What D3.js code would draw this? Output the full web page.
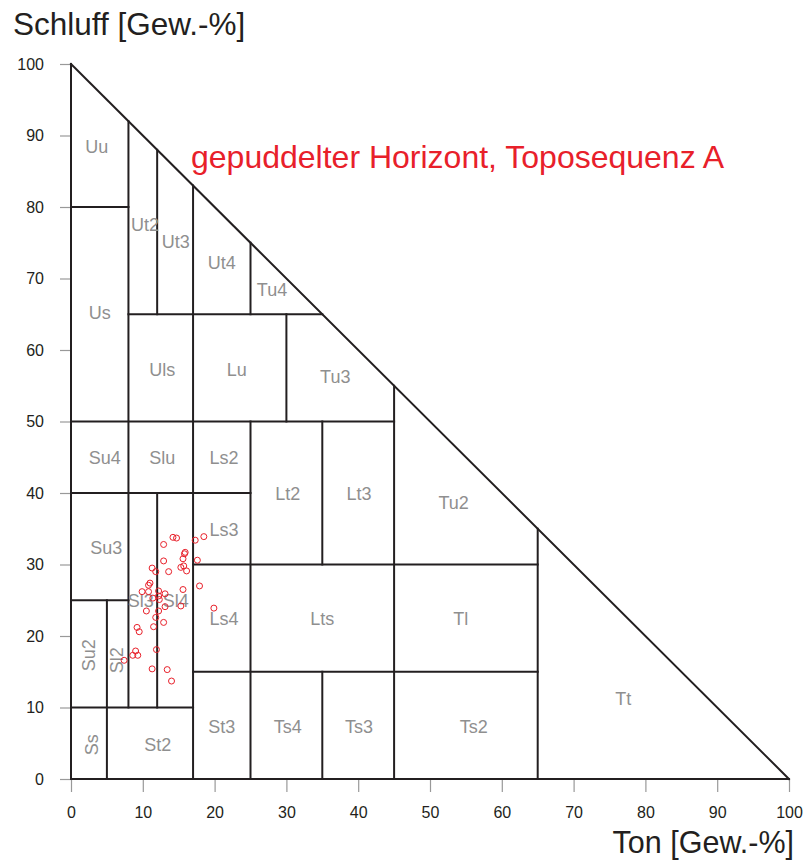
<!DOCTYPE html>
<html>
<head>
<meta charset="utf-8">
<script src="https://cdn.jsdelivr.net/npm/d3@7"></script>
<style>
  body { margin: 0; background: white; }
  text { font-family: "Liberation Sans", Arial, sans-serif; }
</style>
</head>
<body>
<svg width="803" height="861"></svg>
<script>
var tonTicks = [0, 10, 20, 30, 40, 50, 60, 70, 80, 90, 100]
var schluffTicks = [0, 10, 20, 30, 40, 50, 60, 70, 80, 90, 100]

// boundaries of the KA5 texture classes, [ton1, schluff1, ton2, schluff2]
var boundaries = [
  [0, 0, 100, 0], [0, 0, 0, 100], [0, 100, 100, 0],
  [5, 0, 5, 25], [8, 10, 8, 92], [12, 10, 12, 40], [12, 65, 12, 88],
  [17, 0, 17, 83], [25, 0, 25, 50], [25, 65, 25, 75], [30, 50, 30, 65],
  [35, 0, 35, 15], [35, 30, 35, 50], [45, 0, 45, 55], [65, 0, 65, 35],
  [0, 10, 17, 10], [17, 15, 65, 15], [0, 25, 8, 25], [17, 30, 65, 30],
  [0, 40, 25, 40], [0, 50, 45, 50], [8, 65, 35, 65], [0, 80, 8, 80]
]

var classNames = ['Uu', 'Ut2', 'Ut3', 'Ut4', 'Tu4', 'Us', 'Uls', 'Lu', 'Tu3', 'Su4', 'Slu', 'Ls2',
  'Lt2', 'Lt3', 'Tu2', 'Su3', 'Ls3', 'Sl3', 'Sl4', 'Ls4', 'Lts', 'Tl', 'Su2', 'Sl2', 'Ss', 'St2',
  'St3', 'Ts4', 'Ts3', 'Ts2', 'Tt']
var classTon = [3.6, 10.3, 14.6, 21.0, 28.0, 4.0, 12.7, 23.1, 36.8, 4.7, 12.7, 21.3,
  30.2, 40.1, 53.3, 4.9, 21.3, 9.7, 14.6, 21.3, 35.0, 54.3, 2.5, 6.4, 2.9, 12.1,
  21.0, 30.2, 40.1, 56.1, 76.9]
var classSchluff = [88.5, 77.5, 75.2, 72.2, 68.4, 65.2, 57.3, 57.3, 56.2, 44.9, 44.9, 44.9,
  39.9, 39.9, 38.6, 32.3, 34.9, 24.9, 24.9, 22.4, 22.4, 22.4, 17.3, 16.6, 4.8, 4.8,
  7.3, 7.3, 7.3, 7.3, 11.3]
var rotated = ['Su2', 'Sl2', 'Ss']

// samples of the puddled horizon
var ton = [14.2, 14.7, 18.5, 17.3, 12.9, 15.8, 15.9, 15.6, 12.9, 17.6, 15.3, 15.7, 16.1,
  11.3, 11.8, 13.6, 17.9, 11.0, 10.8, 15.6, 9.9, 10.8, 12.2, 13.1, 12.2, 12.3, 11.4,
  13.1, 15.3, 19.9, 10.5, 12.2, 11.8, 12.9, 11.5, 9.2, 9.5, 11.9, 9.0, 8.6, 9.3, 7.4,
  11.3, 13.4, 14.0]
var schluff = [33.8, 33.7, 33.9, 33.4, 32.8, 31.5, 31.7, 30.8, 30.5, 30.6, 29.6, 29.8, 29.1,
  29.5, 29.0, 29.0, 27.0, 27.4, 27.1, 26.5, 26.2, 26.2, 26.3, 25.9, 25.6, 25.1, 25.3,
  24.1, 24.2, 23.9, 23.5, 23.5, 22.6, 21.9, 21.3, 21.2, 20.6, 18.1, 17.9, 17.3, 17.3, 16.6,
  15.4, 15.3, 13.7]

var x = d3.scaleLinear().domain([0, 100]).range([71, 789])
var y = d3.scaleLinear().domain([0, 100]).range([779, 64])

var svg = d3.select('svg')

var xAxis = svg.append('g')
  .attr('transform', 'translate(0,' + y(0) + ')')
  .call(d3.axisBottom(x).tickValues(tonTicks).tickSize(13).tickPadding(15))
var yAxis = svg.append('g')
  .attr('transform', 'translate(' + x(0) + ',0)')
  .call(d3.axisLeft(y).tickValues(schluffTicks).tickSize(11).tickPadding(16))

svg.selectAll('.domain').remove()
svg.selectAll('.tick line').attr('stroke', '#999').attr('stroke-width', 1.2)
svg.selectAll('.tick text')
  .attr('fill', '#231f20')
  .style('font-size', '16px')
  .style('font-family', '"Liberation Sans", Arial, sans-serif')

svg.append('g')
  .selectAll('line')
  .data(boundaries)
  .enter()
  .append('line')
  .attr('x1', function(d) { return x(d[0]) })
  .attr('y1', function(d) { return y(d[1]) })
  .attr('x2', function(d) { return x(d[2]) })
  .attr('y2', function(d) { return y(d[3]) })
  .attr('stroke', '#231f20')
  .attr('stroke-width', 2)
  .attr('stroke-linecap', 'square')

svg.append('g')
  .selectAll('text')
  .data(classNames)
  .enter()
  .append('text')
  .attr('transform', function(d, i) {
    var t = 'translate(' + [x(classTon[i]), y(classSchluff[i])] + ')'
    if (rotated.includes(d)) t += ' rotate(-90)'
    return t
  })
  .attr('text-anchor', 'middle')
  .attr('dy', '0.35em')
  .style('font-size', '18px')
  .style('fill', '#8f8f8f')
  .text(function(d) { return d })

svg.append('g')
  .selectAll('circle')
  .data(ton)
  .enter()
  .append('circle')
  .attr('cx', function(d) { return x(d) })
  .attr('cy', function(d, i) { return y(schluff[i]) })
  .attr('r', 3)
  .attr('fill', 'none')
  .attr('stroke', '#e8202a')
  .attr('stroke-width', 1)

svg.append('text')
  .attr('x', 13)
  .attr('y', 35)
  .style('font-size', '31.5px')
  .style('fill', '#231f20')
  .text('Schluff [Gew.-%]')

svg.append('text')
  .attr('x', 794)
  .attr('y', 853)
  .attr('text-anchor', 'end')
  .style('font-size', '30.5px')
  .style('fill', '#231f20')
  .text('Ton [Gew.-%]')

svg.append('text')
  .attr('x', 191)
  .attr('y', 168)
  .style('font-size', '32px')
  .style('fill', '#e8202a')
  .text('gepuddelter Horizont, Toposequenz A')
</script>
</body>
</html>
